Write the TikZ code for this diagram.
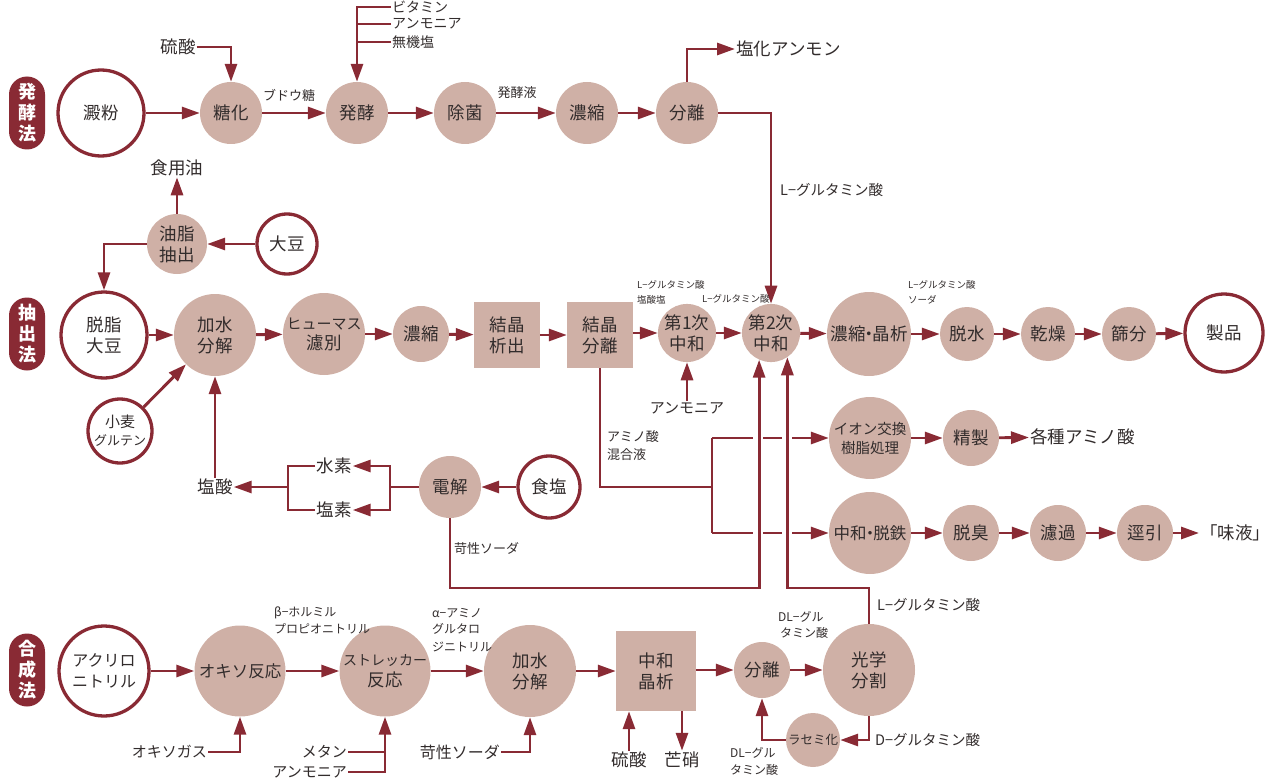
\documentclass[tikz,border=0pt]{standalone}
\usepackage{fontspec}
\setmainfont{Noto Sans CJK JP}
\usetikzlibrary{arrows.meta}
\definecolor{dr}{RGB}{137,42,52}
\definecolor{pk}{RGB}{207,176,166}
\definecolor{tx}{RGB}{50,44,44}
\newcommand\fsA{\fontsize{17.5}{21}\selectfont}
\newcommand\fsK{\fontsize{15}{20}\selectfont}
\newcommand\fsB{\fontsize{13}{18}\selectfont}
\newcommand\fsC{\fontsize{14.5}{18}\selectfont}
\newcommand\fsD{\fontsize{9.5}{15}\selectfont}
\newcommand\fsF{\fontsize{12}{17}\selectfont}
\newcommand\fsP{\fontsize{18}{21}\selectfont}
\newcommand\mdot{\kern-0.3em・\kern-0.3em}
\begin{document}
\begin{tikzpicture}[x=1pt,y=-1pt,
  fc/.style={circle,fill=pk,inner sep=0pt,align=center,text=tx,font=\fsA},
  oc/.style={circle,draw=dr,line width=3.3pt,fill=white,inner sep=0pt,align=center,text=tx,font=\fsA},
  sq/.style={rectangle,fill=pk,minimum size=66pt,inner sep=0pt,align=center,text=tx,font=\fsA},
  pill/.style={rectangle,rounded corners=18pt,fill=dr,minimum width=36pt,minimum height=73pt,inner sep=0pt,align=center,text=white,font=\fsP\bfseries},
  lb/.style={inner sep=1pt,text=tx,font=\fsA},
  ln/.style={draw=dr,line width=2.9pt},
  ar/.style={ln,-{Triangle[length=18pt,width=12pt]}},
]
\useasboundingbox (0,0) rectangle (1273,778);

% ---------- Row 1 ----------
\node[pill] (p1) at (27,113) {発\\酵\\法};
\node[oc,minimum size=86pt] (denpun) at (101,113) {澱粉};
\node[fc,minimum size=62pt] (toka) at (231,113) {糖化};
\node[fc,minimum size=62pt] (hakko) at (357,113) {発酵};
\node[fc,minimum size=62pt] (jokin) at (465,113) {除菌};
\node[fc,minimum size=62pt] (nosh1) at (587,113) {濃縮};
\node[fc,minimum size=62pt] (bunri1) at (687,113) {分離};

\draw[ar] (denpun) -- (toka);
\draw[ar] (toka) -- (hakko);
\draw[ar] (hakko) -- (jokin);
\draw[ar] (jokin) -- (nosh1);
\draw[ar] (nosh1) -- (bunri1);
\node[lb,font=\fsB] (budo) at (289,95) {ブドウ糖};
\node[lb,font=\fsB] (hakkoeki) at (517,93) {発酵液};

\node[lb] (ryusan1) at (178,47) {硫酸};
\draw[ar] (ryusan1.east) -| (toka.north);

\node[lb,font=\fontsize{14}{18}\selectfont,anchor=west] (vit) at (391,7) {ビタミン};
\node[lb,font=\fontsize{14}{18}\selectfont,anchor=west] (amm1) at (391,24) {アンモニア};
\node[lb,font=\fontsize{14}{18}\selectfont,anchor=west] (muki) at (391,42) {無機塩};
\draw[ar] (vit.west) -| (hakko.north);
\draw[ln] (amm1.west) -- (amm1.west -| hakko.north);
\draw[ln] (muki.west) -- (muki.west -| hakko.north);

\node[lb,anchor=west] (enka) at (735,49) {塩化アンモン};
\draw[ar] (bunri1.north) |- (enka.west);

% ---------- Row 2 ----------
\node[pill] (p2) at (27,334) {抽\\出\\法};
\node[oc,minimum size=86pt] (dasshi) at (104,335) {脱脂\\大豆};
\node[fc,minimum size=82pt] (kasui1) at (215,335) {加水\\分解};
\node[fc,minimum size=82pt,font=\fsK] (humus) at (324,334) {ヒューマス\\{\fsA 濾別}};
\node[fc,minimum size=56pt] (nosh2) at (421,334) {濃縮};
\node[sq] (kes1) at (507,335) {結晶\\析出};
\node[sq] (kes2) at (600,335) {結晶\\分離};
\node[fc,minimum size=58pt] (dai1) at (687,333) {第1次\\中和};
\node[fc,minimum size=58pt] (dai2) at (771,333) {第2次\\中和};
\node[fc,minimum size=84pt,font=\fontsize{17.5}{20}\selectfont] (nosho) at (869,334) {濃縮\mdot 晶析};
\node[fc,minimum size=54pt] (dassui) at (967,334) {脱水};
\node[fc,minimum size=54pt] (kanso) at (1048,334) {乾燥};
\node[fc,minimum size=54pt] (furui) at (1129,334) {篩分};
\node[oc,minimum size=78pt] (seihin) at (1224,333) {製品};

\draw[ar] (dasshi) -- (kasui1);
\draw[ar] (kasui1) -- (humus);
\draw[ar] (humus) -- (nosh2);
\draw[ar] (nosh2) -- (kes1);
\draw[ar] (kes1) -- (kes2);
\draw[ar] (kes2.east |- dai1) -- (dai1);
\draw[ar] (dai1) -- (dai2);
\draw[ar] (dai2) -- (nosho);
\draw[ar] (nosho) -- (dassui);
\draw[ar] (dassui) -- (kanso);
\draw[ar] (kanso) -- (furui);
\draw[ar] (furui) -- (seihin);

\draw[ar] (bunri1.east) -| (dai2.north);
\node[lb,font=\fsC,anchor=west] (lglu1) at (779,190) {L−グルタミン酸};

\node[lb,font=\fsD,anchor=west] (lg2a) at (636,285) {L−グルタミン酸};
\node[lb,font=\fsD,anchor=west] (lg2b) at (636,300) {塩酸塩};
\node[lb,font=\fsD,anchor=west] (lg3) at (701,299) {L−グルタミン酸};
\node[lb,font=\fsD,anchor=west] (lg4a) at (907,285) {L−グルタミン酸};
\node[lb,font=\fsD,anchor=west] (lg4b) at (907,300) {ソーダ};

\node[lb,font=\fsK] (amm2) at (687,408) {アンモニア};
\draw[ar] (amm2.north) -- (dai1.south);

\node[fc,minimum size=60pt] (yushi) at (177,244) {油脂\\抽出};
\node[oc,minimum size=60pt] (daizu) at (287,244) {大豆};
\node[lb] (shokuyo) at (177,168) {食用油};
\draw[ar] (daizu) -- (yushi);
\draw[ar] (yushi.north) -- (shokuyo.south);
\draw[ar] (yushi.west) -| (dasshi.north);

\node[oc,minimum size=64pt,font=\fontsize{15}{18}\selectfont] (komugi) at (120,431) {小麦\\{\fontsize{13}{16}\selectfont グルテン}};
\draw[ar] (komugi) -- (kasui1);

\node[lb] (ensan) at (215,487) {塩酸};
\draw[ar] (ensan.north) -- (kasui1.south);

\node[fc,minimum size=62pt] (denkai) at (450,487) {電解};
\node[oc,minimum size=62pt] (shokuen) at (549,487) {食塩};
\draw[ar] (shokuen) -- (denkai);
\node[lb] (suiso) at (334,466) {水素};
\node[lb] (enso) at (334,510) {塩素};
\coordinate (j1) at (390,487);
\coordinate (j2) at (288,487);
\draw[ln] (denkai.west) -- (j1);
\draw[ar] (j1) |- (suiso.east);
\draw[ar] (j1) |- (enso.east);
\draw[ln] (suiso.west) -| (j2) |- (enso.west);
\draw[ar] (j2) -- (ensan.east);

\coordinate (bot) at (0,588);
\draw[ar] (denkai.south) -- (denkai.south |- bot) -| (dai2.-114);
\node[lb,font=\fsB,anchor=west] (kasei1) at (453,549) {苛性ソーダ};

\coordinate (br) at (712,487);
\coordinate (brt) at (712,438);
\coordinate (brb) at (712,533);
\draw[ln] (kes2.south) |- (br);
\draw[ln] (brt) -- (brb);
\node[lb,font=\fsB,anchor=west] (amino1) at (606,437) {アミノ酸};
\node[lb,font=\fsB,anchor=west] (amino2) at (606,455) {混合液};

\node[fc,minimum size=82pt,font=\fontsize{14.5}{19}\selectfont] (ion) at (870,438) {イオン交換\\樹脂処理};
\node[fc,minimum size=56pt] (seisei) at (971,438) {精製};
\node[lb,anchor=west] (kakushu) at (1029,437) {各種アミノ酸};
\node[fc,minimum size=82pt,font=\fontsize{16.5}{19}\selectfont] (chudatetsu) at (870,533) {中和\mdot 脱鉄};
\node[fc,minimum size=56pt] (dasshu) at (971,533) {脱臭};
\node[fc,minimum size=56pt] (roka) at (1058,533) {濾過};
\node[fc,minimum size=56pt] (kei) at (1145,533) {逕引};
\node[lb,anchor=west] (mieki) at (1199,533) {「味液」};

\draw[ar,dash pattern=on 41pt off 10pt on 19pt off 10pt on 200pt] (brt) -- (ion.west);
\draw[ar,dash pattern=on 41pt off 10pt on 19pt off 10pt on 200pt] (brb) -- (chudatetsu.west);
\draw[ar] (ion) -- (seisei);
\draw[ar] (seisei) -- (kakushu);
\draw[ar] (chudatetsu) -- (dasshu);
\draw[ar] (dasshu) -- (roka);
\draw[ar] (roka) -- (kei);
\draw[ar] (kei) -- (mieki);

% ---------- Row 3 ----------
\node[pill] (p3) at (27,670) {合\\成\\法};
\node[oc,minimum size=90pt,font=\fontsize{16}{21}\selectfont] (acry) at (104,671) {アクリロ\\ニトリル};
\node[fc,minimum size=91pt,font=\fontsize{16.5}{20}\selectfont] (oxo) at (240,671) {オキソ反応};
\node[fc,minimum size=91pt] (strk) at (385,671) {{\fontsize{14}{20}\selectfont ストレッカー}\\反応};
\node[fc,minimum size=92pt] (kasui2) at (530,671) {加水\\分解};
\node[sq,minimum size=80pt] (chuwa) at (656,671) {中和\\晶析};
\node[fc,minimum size=56pt] (bunri3) at (762,670) {分離};
\node[fc,minimum size=92pt] (kogaku) at (869,670) {光学\\分割};
\node[fc,minimum size=54pt,font=\fontsize{12.5}{15}\selectfont] (racemi) at (813,740) {ラセミ化};

\draw[ar] (acry) -- (oxo);
\draw[ar] (oxo) -- (strk);
\draw[ar] (strk) -- (kasui2);
\draw[ar] (kasui2) -- (chuwa);
\draw[ar] (chuwa.east |- bunri3) -- (bunri3);
\draw[ar] (bunri3) -- (kogaku);
\draw[ar] (kogaku.south) |- (racemi.east);
\draw[ar] (racemi.west) -| (bunri3.south);
\draw[ar] (kogaku.north) -- (kogaku.north |- bot) -| (dai2.-56);

\node[lb,font=\fsF,anchor=west] (beta1) at (273,613) {\textit{β}−ホルミル};
\node[lb,font=\fsF,anchor=west] (beta2) at (273,629) {プロピオニトリル};
\node[lb,font=\fsF,anchor=west] (alp1) at (431,613) {\textit{α}−アミノ};
\node[lb,font=\fsF,anchor=west] (alp2) at (431,629) {グルタロ};
\node[lb,font=\fsF,anchor=west] (alp3) at (431,647) {ジニトリル};
\node[lb,font=\fsF,anchor=west] (dl1a) at (777,617) {DL−グル};
\node[lb,font=\fsF,anchor=west] (dl1b) at (779,633) {タミン酸};
\node[lb,font=\fsF,anchor=west] (dl2a) at (729,753) {DL−グル};
\node[lb,font=\fsF,anchor=west] (dl2b) at (729,770) {タミン酸};
\node[lb,font=\fsC,anchor=west] (dglu) at (874,740) {D−グルタミン酸};
\node[lb,font=\fsC,anchor=west] (lglu5) at (876,605) {L−グルタミン酸};

\node[lb,font=\fsK,anchor=east] (oxogas) at (208,752) {オキソガス};
\draw[ar] (oxogas.east) -| (oxo.south);
\node[lb,font=\fsK,anchor=east] (metan) at (348,752) {メタン};
\node[lb,font=\fsK,anchor=east] (amm3) at (348,772) {アンモニア};
\draw[ln] (metan.east) -- (metan.east -| strk.south);
\draw[ar] (amm3.east) -| (strk.south);
\node[lb,font=\fontsize{16}{20}\selectfont,anchor=east] (kasei2) at (501,752) {苛性ソーダ};
\draw[ar] (kasei2.east) -| (kasui2.south);

\node[lb] (ryusan2) at (629,760) {硫酸};
\node[lb] (bosho) at (682,760) {芒硝};
\draw[ar] (ryusan2.north) -- (ryusan2.north |- chuwa.south);
\draw[ar] (chuwa.south -| bosho.north) -- (bosho.north);
\end{tikzpicture}
\end{document}
